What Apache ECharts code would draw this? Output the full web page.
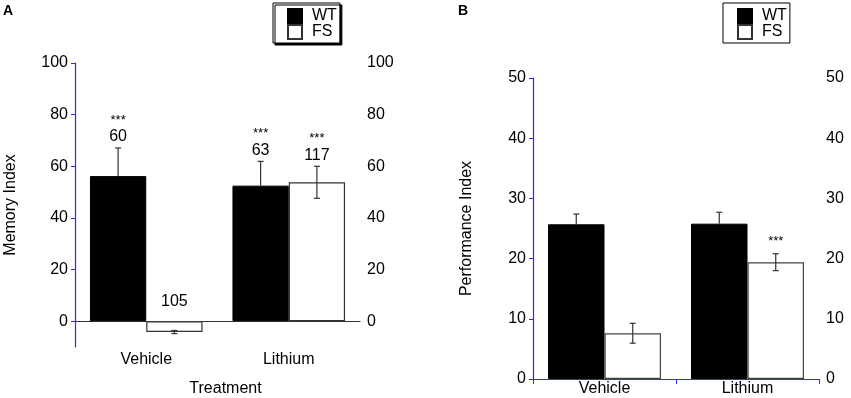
<!DOCTYPE html>
<html>
<head>
<meta charset="utf-8">
<script src="https://cdn.jsdelivr.net/npm/echarts@6/dist/echarts.min.js"></script>
<style>
  html, body { margin: 0; padding: 0; background: #fff; }
  #chart { width: 851px; height: 398px; }
</style>
</head>
<body>
<div id="chart"></div>
<script>
// categories and groups
const categories = ["Vehicle", "Lithium"];
const groups = ["WT", "FS"];

// panel A: memory index (mean, sem)
const memWT = [56.2, 52.5];
const memWTErr = [10.9, 9.4];
const memFS = [-4.2, 53.8];
const memFSErr = [0.6, 6.2];
const memNWT = ["60", "63"];
const memNFS = ["105", "117"];
const memSigWT = ["***", "***"];
const memSigFS = ["", "***"];
const memTicks = [0, 20, 40, 60, 80, 100];

// panel B: performance index (mean, sem)
const perfWT = [25.7, 25.8];
const perfWTErr = [1.7, 1.9];
const perfFS = [7.6, 19.4];
const perfFSErr = [1.65, 1.4];
const perfSigWT = ["", ""];
const perfSigFS = ["", "***"];

const FONT = "Liberation Sans, Arial, sans-serif";
const BLUE = "#2b2bff";
const BAR_FRAC = 0.395;

let myChart = echarts.init(document.getElementById("chart"));

function errSeries(name, axis, means, errs, side) {
  return {
    type: "custom",
    name: name + "-err",
    xAxisIndex: axis,
    yAxisIndex: axis * 2,
    z: 5,
    data: means.map((m, i) => [i, m, errs[i]]),
    encode: { x: 0, y: 1 },
    renderItem: function (params, api) {
      let i = api.value(0), m = api.value(1), e = api.value(2);
      let band = api.size([1, 0])[0];
      let x = api.coord([i, m])[0] + side * band * BAR_FRAC / 2;
      let yTop = api.coord([i, m + e])[1];
      let yBot = api.coord([i, m - e])[1];
      let yMid = api.coord([i, m])[1];
      let st = { stroke: "#333", lineWidth: 1.2 };
      let kids = [];
      if (side < 0) {
        // black bar hides the lower half
        kids.push({ type: "line", shape: { x1: x, y1: yMid, x2: x, y2: yTop }, style: st });
        kids.push({ type: "line", shape: { x1: x - 3, y1: yTop, x2: x + 3, y2: yTop }, style: st });
      } else {
        kids.push({ type: "line", shape: { x1: x, y1: yBot, x2: x, y2: yTop }, style: st });
        kids.push({ type: "line", shape: { x1: x - 3, y1: yTop, x2: x + 3, y2: yTop }, style: st });
        kids.push({ type: "line", shape: { x1: x - 3, y1: yBot, x2: x + 3, y2: yBot }, style: st });
      }
      return { type: "group", children: kids };
    }
  };
}

function noteSeries(name, axis, means, errs, side, nums, stars, starGap) {
  return {
    type: "custom",
    name: name + "-note",
    xAxisIndex: axis,
    yAxisIndex: axis * 2,
    z: 6,
    data: means.map((m, i) => [i, Math.max(m + errs[i], 0)]),
    encode: { x: 0, y: 1 },
    renderItem: function (params, api) {
      let idx = params.dataIndex;
      let i = api.value(0), top = api.value(1);
      let band = api.size([1, 0])[0];
      let p = api.coord([i, top]);
      let x = p[0] + side * band * BAR_FRAC / 2;
      let kids = [];
      let numY = p[1] - (means[idx] < 0 ? 20 : 11);
      if (nums && nums[idx]) {
        kids.push({
          type: "text",
          style: { text: nums[idx], x: x, y: numY, align: "center", verticalAlign: "middle", font: "16px " + FONT, fill: "#000" }
        });
      }
      if (stars[idx]) {
        let sy = nums ? numY - 17 : p[1] - starGap;
        kids.push({
          type: "text",
          style: { text: stars[idx], x: x, y: sy, align: "center", verticalAlign: "middle", font: "13px " + FONT, fill: "#000" }
        });
      }
      return { type: "group", children: kids };
    }
  };
}

let option = {
  animation: false,
  textStyle: { fontFamily: FONT },
  graphic: [
    { type: "text", left: 3, top: 4, style: { text: "A", font: "bold 14px " + FONT, fill: "#000" } },
    { type: "text", left: 458, top: 4, style: { text: "B", font: "bold 14px " + FONT, fill: "#000" } }
  ],
  legend: [
    {
      data: groups,
      orient: "vertical",
      left: 273,
      top: 3,
      icon: "rect",
      itemWidth: 14,
      itemHeight: 14,
      itemGap: 0,
      padding: [5, 3, 3, 14],
      borderColor: "#000",
      borderWidth: 1,
      backgroundColor: "#fff",
      shadowColor: "#000",
      shadowBlur: 0,
      shadowOffsetX: 2,
      shadowOffsetY: 2,
      selectedMode: false,
      textStyle: { fontSize: 16, color: "#000", fontFamily: FONT, padding: [0, 0, 0, 5] }
    },
    {
      data: groups,
      orient: "vertical",
      left: 723,
      top: 3,
      icon: "rect",
      itemWidth: 14,
      itemHeight: 14,
      itemGap: 0,
      padding: [5, 3, 3, 14],
      borderColor: "#000",
      borderWidth: 1,
      backgroundColor: "#fff",
      selectedMode: false,
      textStyle: { fontSize: 16, color: "#000", fontFamily: FONT, padding: [0, 0, 0, 5] }
    }
  ],
  grid: [
    { left: 75, right: 491, top: 63, bottom: 51, outerBoundsMode: "none", containLabel: false },
    { left: 533, right: 32, top: 78, bottom: 19, outerBoundsMode: "none", containLabel: false }
  ],
  xAxis: [
    {
      type: "category",
      gridIndex: 0,
      data: categories,
      axisLine: { onZero: true, lineStyle: { color: "#333", width: 1.2 } },
      axisTick: { show: false },
      axisLabel: { color: "#000", fontSize: 16, margin: 5 },
      name: "Treatment",
      nameLocation: "middle",
      nameGap: 34,
      nameTextStyle: { color: "#000", fontSize: 16, padding: [0, 0, 0, 16] }
    },
    {
      type: "category",
      gridIndex: 1,
      data: categories,
      axisLine: { lineStyle: { color: BLUE, width: 1.2 } },
      axisTick: { show: true, length: 5, lineStyle: { color: BLUE } },
      axisLabel: { color: "#000", fontSize: 16, margin: 2 }
    }
  ],
  yAxis: [
    {
      type: "value",
      gridIndex: 0,
      position: "left",
      min: -10,
      max: 100,
      splitLine: { show: false },
      axisLine: { show: true, lineStyle: { color: BLUE, width: 1.2 } },
      axisTick: { show: true, length: 4, customValues: memTicks, lineStyle: { color: BLUE } },
      axisLabel: { color: "#000", fontSize: 16, margin: 7, customValues: memTicks },
      name: "Memory Index",
      nameLocation: "middle",
      nameGap: 56,
      nameTextStyle: { color: "#000", fontSize: 16 }
    },
    {
      type: "value",
      gridIndex: 0,
      position: "right",
      min: -10,
      max: 100,
      splitLine: { show: false },
      axisLine: { show: false },
      axisTick: { show: false },
      axisLabel: { color: "#000", fontSize: 16, margin: 7, customValues: memTicks }
    },
    {
      type: "value",
      gridIndex: 1,
      position: "left",
      min: 0,
      max: 50,
      interval: 10,
      splitLine: { show: false },
      axisLine: { show: true, lineStyle: { color: BLUE, width: 1.2 } },
      axisTick: { show: true, length: 4, lineStyle: { color: BLUE } },
      axisLabel: { color: "#000", fontSize: 16, margin: 7 },
      name: "Performance Index",
      nameLocation: "middle",
      nameGap: 58,
      nameTextStyle: { color: "#000", fontSize: 16 }
    },
    {
      type: "value",
      gridIndex: 1,
      position: "right",
      min: 0,
      max: 50,
      interval: 10,
      splitLine: { show: false },
      axisLine: { show: false },
      axisTick: { show: false },
      axisLabel: { color: "#000", fontSize: 16, margin: 7 }
    }
  ],
  series: [
    {
      name: "WT", type: "bar", xAxisIndex: 0, yAxisIndex: 0,
      data: memWT, barWidth: "39.5%", barGap: "0%",
      itemStyle: { color: "#000", borderColor: "#000", borderWidth: 1 }
    },
    {
      name: "FS", type: "bar", xAxisIndex: 0, yAxisIndex: 0,
      data: memFS, barWidth: "39.5%", barGap: "0%",
      itemStyle: { color: "#fff", borderColor: "#333", borderWidth: 1.2 }
    },
    {
      name: "WT", type: "bar", xAxisIndex: 1, yAxisIndex: 2,
      data: perfWT, barWidth: "39.5%", barGap: "0%",
      itemStyle: { color: "#000", borderColor: "#000", borderWidth: 1 }
    },
    {
      name: "FS", type: "bar", xAxisIndex: 1, yAxisIndex: 2,
      data: perfFS, barWidth: "39.5%", barGap: "0%",
      itemStyle: { color: "#fff", borderColor: "#444", borderWidth: 1.2 }
    },
    errSeries("memWT", 0, memWT, memWTErr, -1),
    errSeries("memFS", 0, memFS, memFSErr, 1),
    errSeries("perfWT", 1, perfWT, perfWTErr, -1),
    errSeries("perfFS", 1, perfFS, perfFSErr, 1),
    noteSeries("memWT", 0, memWT, memWTErr, -1, memNWT, memSigWT),
    noteSeries("memFS", 0, memFS, memFSErr, 1, memNFS, memSigFS),
    noteSeries("perfWT", 1, perfWT, perfWTErr, -1, null, perfSigWT, 12),
    noteSeries("perfFS", 1, perfFS, perfFSErr, 1, null, perfSigFS, 12)
  ]
};
myChart.setOption(option);
</script>
</body>
</html>
